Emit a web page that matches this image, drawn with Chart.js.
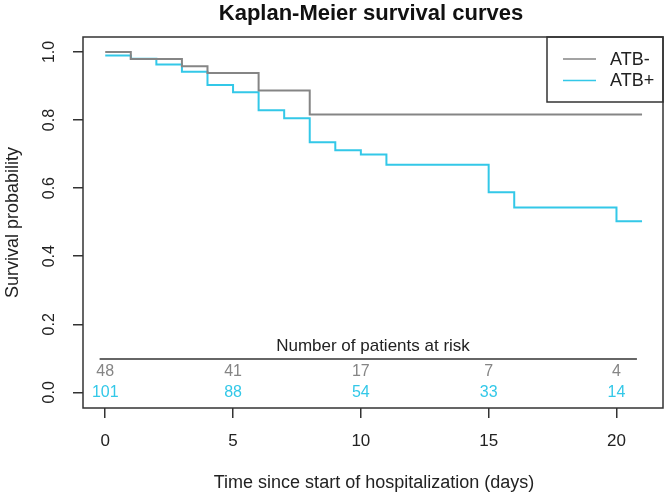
<!DOCTYPE html>
<html>
<head>
<meta charset="utf-8">
<script src="https://cdn.jsdelivr.net/npm/chart.js@4.4.0/dist/chart.umd.min.js"></script>
<style>
  body { margin: 0; background: #fff; }
  #km { display: block; }
</style>
</head>
<body>
<canvas id="km" width="666" height="495"></canvas>
<script>
// Kaplan-Meier step data
const negTimes = [0, 1, 3, 4, 6, 8, 21];
const negSurv  = [1.0, 0.979, 0.958, 0.938, 0.887, 0.816, 0.816];
const posTimes = [0, 1, 2, 3, 4, 5, 6, 7, 8, 9, 10, 11, 15, 16, 20, 21];
const posSurv  = [0.990, 0.980, 0.963, 0.942, 0.903, 0.882, 0.829, 0.805, 0.735, 0.711, 0.699, 0.669, 0.588, 0.543, 0.503, 0.503];

// number at risk table
const riskTimes = [0, 5, 10, 15, 20];
const riskNeg = [48, 41, 17, 7, 4];
const riskPos = [101, 88, 54, 33, 14];

const xTicks = [0, 5, 10, 15, 20];
const yTicks = [0, 0.2, 0.4, 0.6, 0.8, 1.0];
const yTickLabels = ['0.0', '0.2', '0.4', '0.6', '0.8', '1.0'];

const greyCol = '#858585';
const cyanCol = '#33c8e8';
const inkCol = '#222222';
const FONT = "'Liberation Sans', Arial, sans-serif";

const decor = {
  id: 'decor',
  afterDraw(chart) {
    const ctx = chart.ctx;
    const ca = chart.chartArea;
    const xs = chart.scales.x, ys = chart.scales.y;
    const midX = (ca.left + ca.right) / 2;
    ctx.save();

    // frame
    ctx.strokeStyle = '#333';
    ctx.lineWidth = 1.5;
    ctx.strokeRect(ca.left, ca.top, ca.right - ca.left, ca.bottom - ca.top);

    // title
    ctx.fillStyle = '#111';
    ctx.font = 'bold 22px ' + FONT;
    ctx.textAlign = 'center';
    ctx.textBaseline = 'middle';
    ctx.fillText('Kaplan-Meier survival curves', midX - 2, 14);

    // y tick labels, rotated like base R
    ctx.fillStyle = inkCol;
    ctx.font = '16px ' + FONT;
    yTicks.forEach((v, i) => {
      ctx.save();
      ctx.translate(50, ys.getPixelForValue(v));
      ctx.rotate(-Math.PI / 2);
      ctx.fillText(yTickLabels[i], 0, 0);
      ctx.restore();
    });

    // axis titles
    ctx.font = '18px ' + FONT;
    ctx.save();
    ctx.translate(13, (ca.top + ca.bottom) / 2);
    ctx.rotate(-Math.PI / 2);
    ctx.fillText('Survival probability', 0, 0);
    ctx.restore();
    ctx.fillText('Time since start of hospitalization (days)', midX + 1, 483);

    // number at risk
    ctx.font = '17px ' + FONT;
    ctx.fillText('Number of patients at risk', midX, ys.getPixelForValue(0.134));
    ctx.strokeStyle = '#333';
    ctx.lineWidth = 1.5;
    const yl = ys.getPixelForValue(0.098);
    ctx.beginPath();
    ctx.moveTo(xs.getPixelForValue(-0.22), yl);
    ctx.lineTo(xs.getPixelForValue(20.8), yl);
    ctx.stroke();
    ctx.font = '16px ' + FONT;
    riskTimes.forEach((t, i) => {
      const px = xs.getPixelForValue(t);
      ctx.fillStyle = greyCol;
      ctx.fillText(String(riskNeg[i]), px, ys.getPixelForValue(0.062));
      ctx.fillStyle = cyanCol;
      ctx.fillText(String(riskPos[i]), px, ys.getPixelForValue(0.0));
    });

    // legend box in the top right corner
    const lx = 547, ly = ca.top, lw = ca.right - 547, lh = 65;
    ctx.strokeStyle = '#333';
    ctx.lineWidth = 1.5;
    ctx.strokeRect(lx, ly, lw, lh);
    ctx.font = '18px ' + FONT;
    ctx.textAlign = 'left';
    chart.data.datasets.forEach((ds, i) => {
      const yy = ly + 22 + i * 21.5;
      ctx.strokeStyle = ds.borderColor;
      ctx.lineWidth = 1.5;
      ctx.beginPath();
      ctx.moveTo(563, yy);
      ctx.lineTo(596, yy);
      ctx.stroke();
      ctx.fillStyle = inkCol;
      ctx.fillText(ds.label, 610, yy + 1);
    });
    ctx.restore();
  }
};

new Chart('km', {
  type: 'line',
  data: {
    datasets: [
      {
        label: 'ATB-',
        data: negTimes.map((t, i) => ({ x: t, y: negSurv[i] })),
        borderColor: greyCol,
        borderWidth: 2,
        stepped: 'before',
        pointRadius: 0,
        fill: false
      },
      {
        label: 'ATB+',
        data: posTimes.map((t, i) => ({ x: t, y: posSurv[i] })),
        borderColor: cyanCol,
        borderWidth: 2,
        stepped: 'before',
        pointRadius: 0,
        fill: false
      }
    ]
  },
  options: {
    responsive: false,
    animation: false,
    layout: { padding: { top: 37, right: 3, left: 0, bottom: 0 } },
    plugins: {
      legend: { display: false },
      title: { display: false },
      tooltip: { enabled: false }
    },
    scales: {
      x: {
        type: 'linear',
        min: -0.87,
        max: 21.82,
        afterBuildTicks: (s) => { s.ticks = xTicks.map(v => ({ value: v })); },
        afterFit: (s) => { s.height = 87; },
        border: { display: false },
        grid: { drawOnChartArea: false, drawTicks: true, tickLength: 10, color: '#333', lineWidth: 1.5 },
        ticks: { color: inkCol, font: { family: FONT, size: 17 }, padding: 13, maxRotation: 0 }
      },
      y: {
        type: 'linear',
        min: -0.046,
        max: 1.044,
        afterBuildTicks: (s) => { s.ticks = yTicks.map(v => ({ value: v })); },
        afterFit: (s) => { s.width = 83; },
        border: { display: false },
        grid: { drawOnChartArea: false, drawTicks: true, tickLength: 10, color: '#333', lineWidth: 1.5 },
        ticks: { display: false }
      }
    }
  },
  plugins: [decor]
});
</script>
</body>
</html>
